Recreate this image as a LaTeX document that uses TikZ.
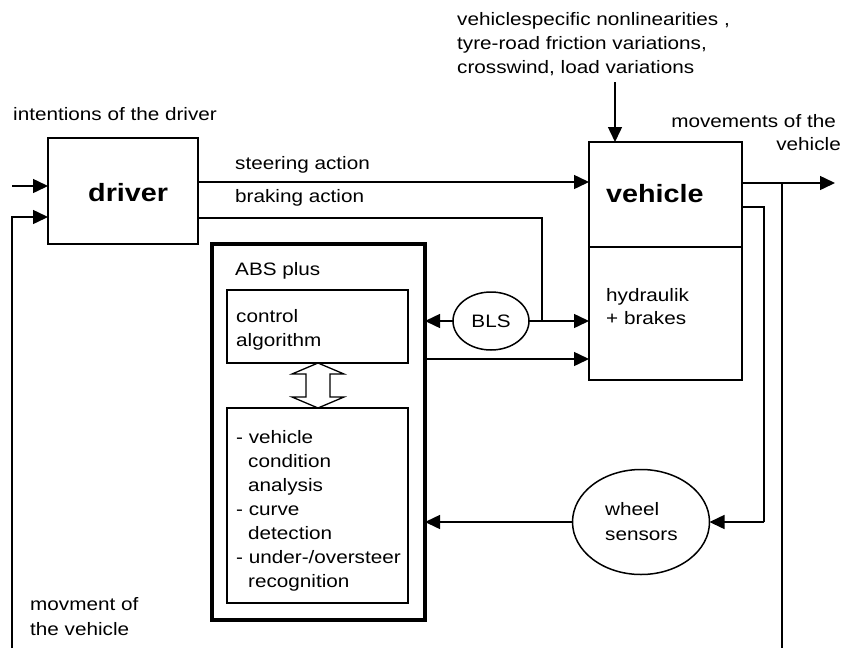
\documentclass[tikz,border=0pt]{standalone}
\usepackage{fontspec}
\setmainfont{Liberation Sans}[FakeStretch=1.15]
\usetikzlibrary{arrows.meta,shapes.geometric}
\begin{document}
\begin{tikzpicture}[x=1pt,y=-1pt,
  txt/.style={inner sep=0pt, anchor=base west, font=\fontsize{18}{24}\selectfont},
  txtr/.style={txt, anchor=base east},
  big/.style={inner sep=0pt, anchor=base west, font=\fontsize{25}{30}\selectfont\bfseries},
  blk/.style={draw, line width=2pt, inner sep=0pt, outer sep=0pt, anchor=north west},
  ibox/.style={draw, line width=1.3pt, inner sep=0pt, outer sep=0pt, anchor=north west},
  ell/.style={draw, ellipse, line width=1.5pt, inner sep=0pt, outer sep=0pt, font=\fontsize{18}{24}\selectfont},
  wire/.style={line width=1.5pt},
  arr/.style={wire, -{Triangle[length=15pt,width=14pt]}},
  dblarr/.style={line width=1.3pt, fill=white},
]
\useasboundingbox (0,0) rectangle (851,648);

% blocks
\node[blk, minimum width=150pt, minimum height=106pt] (driver) at (48,138) {};
\node[blk, minimum width=153pt, minimum height=105pt] (vehicle) at (589,142) {};
\node[ibox, line width=1.5pt, minimum width=153pt, minimum height=133pt] (hydr) at (589,247) {};
\node[blk, line width=3.5pt, minimum width=213pt, minimum height=376pt] (abs) at (212,244) {};
\node[ibox, minimum width=181pt, minimum height=73pt] (ctrl) at (227,290) {};
\node[ibox, minimum width=181pt, minimum height=195pt] (ana) at (227,408) {};
\node[ell, minimum width=76pt, minimum height=58pt] (bls) at (491,321) {BLS};
\node[ell, minimum width=137pt, minimum height=105pt] (wheel) at (641,522) {};

% helper coordinates
\coordinate (inL) at (12,186);
\coordinate (fbL) at (12,648);
\coordinate (jB) at (542,218);
\coordinate (jB2) at (542,321);
\coordinate (outR) at (835,183);
\coordinate (brR) at (782,183);
\coordinate (brRb) at (782,648);
\coordinate (sR) at (764,207);
\coordinate (sRb) at (764,522);
\coordinate (dist) at (615,82);
\coordinate (steerY) at (0,182);
\coordinate (fbY) at (0,217);
\coordinate (absY) at (0,359);

% connectors
\draw[arr] (inL) -- (inL -| driver.west);
\draw[arr] (fbL) |- (driver.west |- fbY);
\draw[arr] (driver.east |- steerY) -- (vehicle.west |- steerY);
\draw[wire] (driver.east |- jB) -- (jB) -- (jB2);
\draw[arr] (bls.east) -- (hydr.west |- bls.east);
\draw[arr] (bls.west) -- (abs.east |- bls.west);
\draw[arr] (abs.east |- absY) -- (hydr.west |- absY);
\draw[arr] (vehicle.east |- outR) -- (outR);
\draw[wire] (brR) -- (brRb);
\draw[wire] (vehicle.east |- sR) -- (sR) -- (sRb);
\draw[arr] (sRb) -- (wheel.east);
\draw[arr] (wheel.west) -- (abs.east |- wheel.west);
\draw[arr] (dist) -- (dist |- vehicle.north);

% double arrow between control algorithm and analysis box
\draw[dblarr] (318,363) -- (344,374) -- (330,374) -- (330,397) -- (344,397)
  -- (318,408) -- (292,397) -- (306,397) -- (306,374) -- (292,374) -- cycle;

% texts
\node[txt] (tIntent) at (13,120) {intentions of the driver};
\node[txt] (tDist1) at (457,25) {vehiclespecific nonlinearities ,};
\node[txt] (tDist2) at (457,49) {tyre-road friction variations,};
\node[txt] (tDist3) at (457,73) {crosswind, load variations};
\node[txtr] (tMov1) at (836,127) {movements of the};
\node[txtr] (tMov2) at (841,150) {vehicle};
\node[txt] (tSteer) at (235,169) {steering action};
\node[txt] (tBrake) at (235,202) {braking action};
\node[big] (tDriver) at (88,201) {driver};
\node[big] (tVehicle) at (606,202) {vehicle};
\node[txt] (tHyd1) at (606,301) {hydraulik};
\node[txt] (tHyd2) at (606,324) {+ brakes};
\node[txt] (tAbs) at (235,275) {ABS plus};
\node[txt] (tCtrl1) at (236,322) {control};
\node[txt] (tCtrl2) at (236,346) {algorithm};
\node[txt] (tA1) at (236,443) {- vehicle};
\node[txt] (tA2) at (248,467) {condition};
\node[txt] (tA3) at (248,491) {analysis};
\node[txt] (tA4) at (236,515) {- curve};
\node[txt] (tA5) at (248,539) {detection};
\node[txt] (tA6) at (236,563) {- under-/oversteer};
\node[txt] (tA7) at (248,587) {recognition};
\node[txt] (tWheel1) at (605,515) {wheel};
\node[txt] (tWheel2) at (605,540) {sensors};
\node[txt] (tMvt1) at (30,610) {movment of};
\node[txt] (tMvt2) at (30,635) {the vehicle};
\end{tikzpicture}
\end{document}
